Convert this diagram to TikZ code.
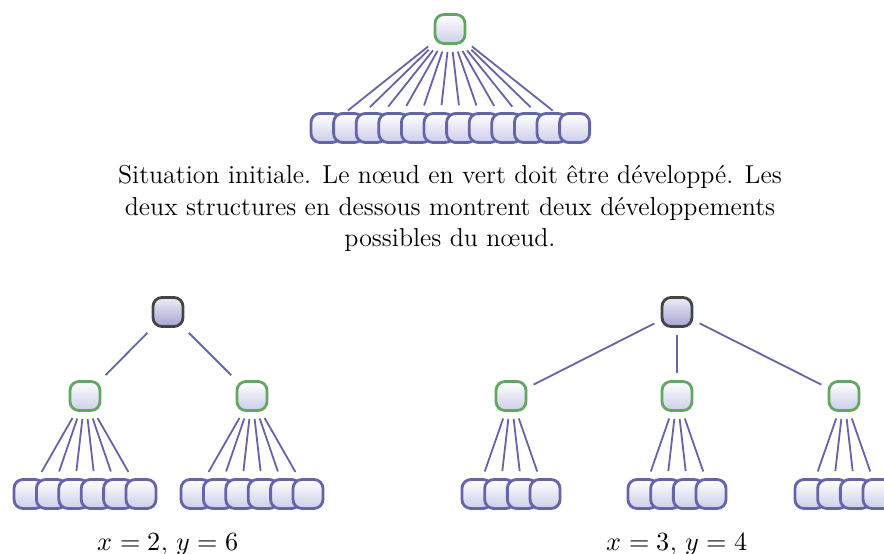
\documentclass[tikz,border=0pt]{standalone}
\usepackage{fontspec}
\usepackage{unicode-math}
\setmainfont{lmroman12-regular.otf}
\setmathfont{latinmodern-math.otf}
\definecolor{leafblue}{RGB}{100,100,168}
\definecolor{leaffill}{RGB}{205,205,234}
\definecolor{frontgreen}{RGB}{98,166,98}
\definecolor{innergray}{RGB}{68,68,68}
\definecolor{rootlight}{RGB}{236,236,246}
\definecolor{rootfill}{RGB}{165,165,212}
\tikzset{
  box/.style={rectangle, rounded corners=9pt, minimum width=30pt,
    minimum height=29pt, inner sep=0pt, line width=2.8pt},
  leaf/.style={box, draw=leafblue, top color=white, bottom color=leaffill},
  frontier/.style={box, draw=frontgreen, top color=white, bottom color=leaffill},
  inner/.style={box, draw=innergray, top color=rootlight, bottom color=rootfill},
  link/.style={draw=leafblue, line width=1.8pt, shorten <=7pt, shorten >=7pt},
  txt/.style={anchor=base, inner sep=0pt, font=\fontsize{25.9}{31.5}\selectfont},
  formula/.style={anchor=base, inner sep=0pt, font=\fontsize{26.2}{31.5}\selectfont},
}
\begin{document}
\begin{tikzpicture}[x=1pt, y=-1pt]
\useasboundingbox (0,0) rectangle (884,554);
\clip (0,0) rectangle (884,554);

% initial situation: one frontier node with twelve children
\node[frontier] (p) at (450,29) {};
\foreach \i in {0,...,11}
  \node[leaf] (t\i) at ({326+22.6*\i},128) {};
\foreach \i in {0,...,11}
  \draw[link] (p) -- (t\i);

\node[txt] (cap1) at (450,183) {Situation initiale. Le nœud en vert doit être développé. Les};
\node[txt] (cap2) at (450,215) {deux structures en dessous montrent deux développements};
\node[txt] (cap3) at (450,246) {possibles du nœud.};

% expansion with x = 2, y = 6
\node[inner] (a) at (168,312) {};
\node[frontier] (a1) at (85,396) {};
\node[frontier] (a2) at (252,396) {};
\foreach \c/\cx in {1/85, 2/252} {
  \foreach \i in {0,...,5}
    \node[leaf] (a\c\i) at ({\cx+22.4*(\i-2.5)},494) {};
  \foreach \i in {0,...,5}
    \draw[link] (a\c) -- (a\c\i);
  \draw[link] (a) -- (a\c);
}
\node[formula] (lab1) at (168,550) {$x=2$, $y=6$};

% expansion with x = 3, y = 4
\node[inner] (b) at (677,312) {};
\node[frontier] (b1) at (511,396) {};
\node[frontier] (b2) at (677,396) {};
\node[frontier] (b3) at (844,396) {};
\foreach \c/\cx in {1/511, 2/677, 3/844} {
  \foreach \i in {0,...,3}
    \node[leaf] (b\c\i) at ({\cx+22.7*(\i-1.5)},494) {};
  \foreach \i in {0,...,3}
    \draw[link] (b\c) -- (b\c\i);
  \draw[link] (b) -- (b\c);
}
\node[formula] (lab2) at (677,550) {$x=3$, $y=4$};
\end{tikzpicture}
\end{document}
